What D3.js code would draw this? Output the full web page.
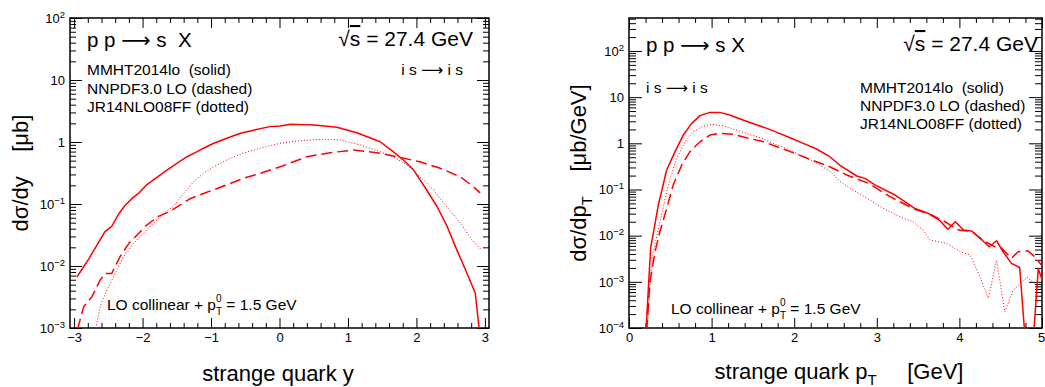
<!DOCTYPE html>
<html><head><meta charset="utf-8">
<script src="https://cdn.jsdelivr.net/npm/d3@7"></script>
<style>
html,body{margin:0;padding:0;background:#fff;}
svg{display:block;font-family:"Liberation Sans",Arial,Helvetica,sans-serif;}
text{white-space:pre;}
</style></head><body>
<svg id="c" width="1045" height="387"></svg>
<script>
// ---------- Left panel: dσ/dy [μb] vs rapidity y ----------
const ySolid = [-2.96,-2.89,-2.78,-2.66,-2.55,-2.45,-2.35,-2.25,-2.155,-2.06,-1.94,-1.81,-1.64,-1.50,-1.35,-1.23,-1.11,-0.96,-0.77,-0.57,-0.38,-0.14,0.01,0.16,0.50,0.84,1.13,1.47,1.66,1.81,1.96,2.15,2.30,2.44,2.59,2.74,2.86,2.92];
const dsdySolid = [0.0066,0.0087,0.0133,0.0224,0.0358,0.0437,0.069,0.0964,0.123,0.148,0.204,0.259,0.355,0.453,0.579,0.673,0.794,0.955,1.15,1.38,1.55,1.77,1.81,1.93,1.88,1.73,1.41,1.01,0.698,0.513,0.353,0.168,0.0912,0.0457,0.0182,0.00759,0.00363,0.00089];

const yDashed = [-2.95,-2.86,-2.74,-2.62,-2.545,-2.45,-2.33,-2.20,-2.08,-1.94,-1.77,-1.60,-1.45,-1.30,-1.11,-0.91,-0.77,-0.53,-0.28,0.01,0.40,0.74,1.08,1.42,1.71,2.05,2.35,2.64,2.83,2.93];
const dsdyDashed = [0.00095,0.00221,0.0032,0.00594,0.00759,0.00759,0.0141,0.0232,0.0316,0.0457,0.0631,0.0759,0.0964,0.123,0.148,0.178,0.204,0.259,0.313,0.398,0.579,0.673,0.741,0.673,0.579,0.481,0.376,0.275,0.191,0.151];

const yDotted = [-2.69,-2.62,-2.52,-2.40,-2.28,-2.13,-1.985,-1.84,-1.69,-1.55,-1.40,-1.255,-1.11,-0.96,-0.77,-0.53,-0.28,0.01,0.30,0.59,0.89,1.18,1.47,1.66,1.86,2.05,2.25,2.44,2.64,2.81,2.95];
const dsdyDotted = [0.00089,0.00221,0.0041,0.00759,0.0141,0.0232,0.0339,0.049,0.0708,0.0912,0.148,0.229,0.313,0.398,0.513,0.661,0.794,0.955,1.05,1.10,1.08,0.895,0.698,0.579,0.427,0.275,0.168,0.0912,0.049,0.0263,0.0182];

// ---------- Right panel: dσ/dpT [μb/GeV] vs pT ----------
const ptSolid = [0.206,0.262,0.355,0.456,0.557,0.657,0.759,0.86,0.98,1.10,1.22,1.38,1.55,1.67,1.79,1.95,2.11,2.27,2.43,2.55,2.757,2.857,2.978,3.22,3.34,3.46,3.62,3.765,3.86,3.95,4.05,4.15,4.27,4.36,4.45,4.53,4.63,4.73,4.79,4.90,4.955,5.0];
const dsdptSolid = [0.0000891,0.00537,0.0461,0.264,0.661,1.51,2.71,3.98,4.68,4.68,4.10,3.20,2.49,2.11,1.73,1.32,1.0,0.753,0.513,0.339,0.196,0.174,0.126,0.0759,0.0543,0.0389,0.0305,0.0211,0.0138,0.020,0.0132,0.0126,0.00813,0.00575,0.00776,0.00447,0.00251,0.00204,0.00008,0.00008,0.00195,0.00112];

const ptDashed = [0.214,0.254,0.315,0.375,0.456,0.536,0.638,0.738,0.86,0.98,1.10,1.26,1.42,1.63,1.79,1.95,2.11,2.27,2.43,2.636,2.90,3.16,3.46,3.665,3.825,3.99,4.15,4.31,4.43,4.51,4.63,4.71,4.83,4.915,5.0];
const dsdptDashed = [0.0000891,0.001,0.00447,0.0123,0.0389,0.126,0.339,0.661,1.08,1.51,1.65,1.57,1.32,1.08,0.845,0.661,0.513,0.398,0.311,0.206,0.136,0.0698,0.0372,0.0282,0.020,0.0132,0.0123,0.00741,0.00575,0.00537,0.00324,0.00447,0.00468,0.00347,0.00224];

const ptDotted = [0.222,0.254,0.294,0.375,0.476,0.577,0.678,0.779,0.88,1.00,1.14,1.30,1.46,1.63,1.79,1.95,2.11,2.27,2.43,2.55,2.70,2.92,3.08,3.28,3.44,3.56,3.64,3.85,4.01,4.13,4.25,4.35,4.45,4.55,4.65,4.82,5.0];
const dsdptDotted = [0.0000891,0.001,0.00447,0.020,0.126,0.473,1.08,1.78,2.29,2.57,2.40,1.94,1.57,1.24,0.918,0.716,0.513,0.369,0.251,0.152,0.100,0.0589,0.0389,0.0257,0.020,0.0132,0.00813,0.00676,0.00447,0.0038,0.00129,0.000437,0.00295,0.000224,0.000661,0.00126,0.00066];

// ---------- Tick values ----------
const xTicksLeft = [-3,-2,-1,0,1,2,3];
const xTicksRight = [0,1,2,3,4,5];
const yDecadesLeft = [1e-3,1e-2,1e-1,1,10,100];
const yDecadesRight = [1e-4,1e-3,1e-2,1e-1,1,10,100];

const legendLines = ["MMHT2014lo  (solid)","NNPDF3.0 LO (dashed)","JR14NLO08FF (dotted)"];

const svg = d3.select("#c");
const RED = "#ff0000";

function zip(a,b){ return a.map((v,i)=>[v,b[i]]); }
function minorLinear(dom, step){ const r=[]; const n0=Math.ceil(dom[0]/step-1e-9), n1=Math.floor(dom[1]/step+1e-9); for(let n=n0;n<=n1;n++){ const v=+(n*step).toFixed(6); if(Math.abs(v-Math.round(v))>1e-6) r.push(v);} return r; }
function minorLog(dom){ const r=[]; const e0=Math.floor(Math.log10(dom[0])), e1=Math.ceil(Math.log10(dom[1])); for(let e=e0;e<=e1;e++){ for(let k=2;k<=9;k++){ const v=k*Math.pow(10,e); if(v>=dom[0]&&v<=dom[1]) r.push(v);} } return r; }

function logLabel(sel){
  sel.each(function(d){
    const e = Math.round(Math.log10(d));
    const t = d3.select(this); t.text(null);
    if(e===0){ t.text("1"); }
    else if(e===1){ t.text("10"); }
    else { t.text("10"); t.append("tspan").attr("dy","-5").attr("font-size","9.5px").text(e<0?("\u2212"+(-e)):String(e)); }
  });
}

function panel(cfg){
  const g = svg.append("g");
  const x = d3.scaleLinear().domain(cfg.xdom).range([cfg.x0,cfg.x1]);
  const y = d3.scaleLog().domain(cfg.ydom).range([cfg.y1,cfg.y0]);
  const id = "clip"+cfg.id;
  svg.append("defs").append("clipPath").attr("id",id).append("rect")
     .attr("x",cfg.x0).attr("y",cfg.y0).attr("width",cfg.x1-cfg.x0).attr("height",cfg.y1-cfg.y0);

  const style = s => s.attr("font-size","13px").attr("font-family","Liberation Sans,Arial,sans-serif");
  // bottom
  const b = g.append("g").attr("transform",`translate(0,${cfg.y1})`)
    .call(d3.axisBottom(x).tickValues(cfg.xticks).tickFormat(d3.format("d")).tickSizeInner(-cfg.xmaj).tickSizeOuter(0).tickPadding(5));
  b.call(style); b.select(".domain").remove();
  if(cfg.lastDx) b.selectAll(".tick text").filter(d=>d===cfg.xticks[cfg.xticks.length-1]).attr("dx",cfg.lastDx);
  g.append("g").attr("transform",`translate(0,${cfg.y1})`)
    .call(d3.axisBottom(x).tickValues(minorLinear(cfg.xdom,0.2)).tickSizeInner(-cfg.xmin).tickSizeOuter(0).tickFormat(""))
    .select(".domain").remove();
  // top
  g.append("g").attr("transform",`translate(0,${cfg.y0})`)
    .call(d3.axisTop(x).tickValues(cfg.xticks).tickSizeInner(-cfg.xmaj).tickSizeOuter(0).tickFormat(""))
    .select(".domain").remove();
  g.append("g").attr("transform",`translate(0,${cfg.y0})`)
    .call(d3.axisTop(x).tickValues(minorLinear(cfg.xdom,0.2)).tickSizeInner(-cfg.xmin).tickSizeOuter(0).tickFormat(""))
    .select(".domain").remove();
  // left
  const l = g.append("g").attr("transform",`translate(${cfg.x0},0)`)
    .call(d3.axisLeft(y).tickValues(cfg.ydec).tickSizeInner(-cfg.ymaj).tickSizeOuter(0).tickPadding(5));
  l.call(style); l.select(".domain").remove(); l.selectAll(".tick text").call(logLabel);
  g.append("g").attr("transform",`translate(${cfg.x0},0)`)
    .call(d3.axisLeft(y).tickValues(minorLog(cfg.ydom)).tickSizeInner(-cfg.ymin).tickSizeOuter(0).tickFormat(""))
    .select(".domain").remove();
  // right
  g.append("g").attr("transform",`translate(${cfg.x1},0)`)
    .call(d3.axisRight(y).tickValues(cfg.ydec).tickSizeInner(-cfg.ymaj).tickSizeOuter(0).tickFormat(""))
    .select(".domain").remove();
  g.append("g").attr("transform",`translate(${cfg.x1},0)`)
    .call(d3.axisRight(y).tickValues(minorLog(cfg.ydom)).tickSizeInner(-cfg.ymin).tickSizeOuter(0).tickFormat(""))
    .select(".domain").remove();
  g.selectAll(".tick line").attr("stroke","#000").attr("stroke-width",1);
  g.selectAll(".tick text").attr("fill","#000");

  // frame
  g.append("rect").attr("x",cfg.x0).attr("y",cfg.y0).attr("width",cfg.x1-cfg.x0).attr("height",cfg.y1-cfg.y0)
    .attr("fill","none").attr("stroke","#000").attr("stroke-width",1.5);

  const line = d3.line().x(d=>x(d[0])).y(d=>y(Math.max(d[1],1e-7)));
  const cg = g.append("g").attr("clip-path",`url(#${id})`);
  cfg.series.forEach(s=>{
    cg.append("path").attr("d",line(s.data)).attr("fill","none").attr("stroke",RED)
      .attr("stroke-width",s.w).attr("stroke-dasharray",s.dash||null).attr("stroke-linejoin","round");
  });
  return {g,x,y};
}

panel({id:1,x0:70,x1:489,y0:18,y1:328,xdom:[-3.06,3.06],ydom:[1e-3,100],xticks:xTicksLeft,ydec:yDecadesLeft,
  xmaj:10,xmin:5,ymaj:12,ymin:6,
  series:[{data:zip(ySolid,dsdySolid),w:1.5},{data:zip(yDashed,dsdyDashed),w:1.5,dash:"11,5"},{data:zip(yDotted,dsdyDotted),w:1,dash:"1,2"}]});
panel({id:2,x0:629,x1:1042,y0:18,y1:328,xdom:[0,5],ydom:[1e-4,518],xticks:xTicksRight,ydec:yDecadesRight,
  xmaj:10,xmin:5,ymaj:13,ymin:7,lastDx:"-1",
  series:[{data:zip(ptSolid,dsdptSolid),w:1.5},{data:zip(ptDashed,dsdptDashed),w:1.5,dash:"11,5"},{data:zip(ptDotted,dsdptDotted),w:1,dash:"1,2"}]});

// ---------- Texts ----------
function txt(x,y,s,size,anchor){ return svg.append("text").attr("x",x).attr("y",y).attr("font-size",size+"px").attr("text-anchor",anchor||"start").attr("fill","#000").text(s); }
function arrowText(x,y,parts,size,anchor){
  const t = svg.append("text").attr("x",x).attr("y",y).attr("font-size",size+"px").attr("text-anchor",anchor||"start").attr("fill","#000");
  t.append("tspan").text(parts[0]);
  t.append("tspan").attr("font-family","DejaVu Sans").text("\u27F6");
  t.append("tspan").text(parts[1]);
  return t;
}
function sqrtS(x,y){
  const t = svg.append("text").attr("x",x).attr("y",y).attr("font-size","21px").attr("text-anchor","end").attr("fill","#000");
  t.append("tspan").text("\u221A");
  t.append("tspan").attr("text-decoration","overline").text("s");
  t.append("tspan").text(" = 27.4 GeV");
}
function loText(x,y){
  const t = svg.append("text").attr("x",x).attr("y",y).attr("font-size","15.5px").attr("fill","#000");
  t.append("tspan").text("LO collinear + p");
  t.append("tspan").attr("font-size","10px").attr("dy","-8").text("0");
  t.append("tspan").attr("font-size","10px").attr("dx","-5.6").attr("dy","12.5").text("T");
  t.append("tspan").attr("dy","-4.5").text(" = 1.5 GeV");
}

// left panel texts
arrowText(87,47,["p p "," s  X"],20.5);
legendLines.forEach((s,i)=>txt(87,[75,93.5,112][i],s,15.5));
sqrtS(473,46);
arrowText(463,75,["i s "," i s"],15.5,"end");
loText(107,310);
// right panel texts
arrowText(646,52,["p p "," s X"],20.5);
legendLines.forEach((s,i)=>txt(860,[92.5,110.5,128.5][i],s,15.5));
sqrtS(1038,51);
arrowText(646,92.5,["i s "," i s"],15.5);
loText(671,314);

// axis titles
svg.append("text").attr("transform","translate(28,173) rotate(-90)").attr("text-anchor","middle")
  .attr("font-size","22px").attr("fill","#000").text("d\u03C3/dy    [\u03BCb]");
const yt2 = svg.append("text").attr("transform","translate(586,173) rotate(-90)").attr("text-anchor","middle")
  .attr("font-size","22px").attr("fill","#000");
yt2.append("tspan").text("d\u03C3/dp");
yt2.append("tspan").attr("font-size","15px").attr("dy","6").text("T");
yt2.append("tspan").attr("dy","-6").text("    [\u03BCb/GeV]");

txt(278,381,"strange quark y",22,"middle");
const xt2 = svg.append("text").attr("x",839).attr("y",379).attr("font-size","22px").attr("text-anchor","middle").attr("fill","#000");
xt2.append("tspan").text("strange quark p");
xt2.append("tspan").attr("font-size","15px").attr("dy","6").text("T");
xt2.append("tspan").attr("dy","-6").text("     [GeV]");
</script>
</body></html>
